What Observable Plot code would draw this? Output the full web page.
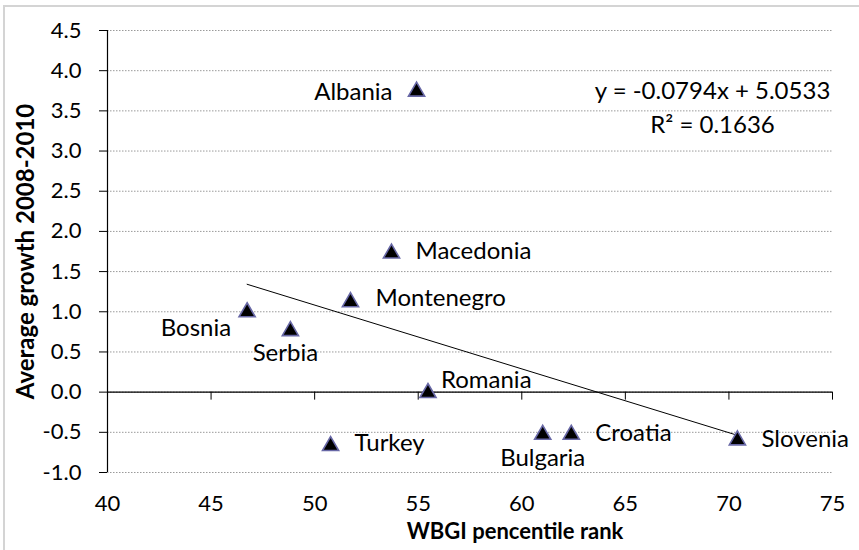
<!DOCTYPE html>
<html>
<head>
<meta charset="utf-8">
<script src="https://cdn.jsdelivr.net/npm/d3@7"></script>
<script src="https://cdn.jsdelivr.net/npm/@observablehq/plot@0.6"></script>
<style>
  html, body { margin: 0; padding: 0; background: white; }
  #wrap { position: relative; width: 859px; height: 550px; overflow: hidden; }
  #border { position: absolute; left: 3px; top: 5px; width: 900px; height: 600px;
            border-left: 2px solid #d4d4d4; border-top: 2px solid #d4d4d4; pointer-events: none; }
</style>
</head>
<body>
<div id="wrap"><div id="border"></div></div>
<script>
// ---- data ----
const countries = ["Albania","Macedonia","Montenegro","Bosnia","Serbia","Romania","Turkey","Bulgaria","Croatia","Slovenia"];
const wbgiRank  = [54.92, 53.71, 51.73, 46.74, 48.83, 55.47, 50.77, 61.01, 62.39, 70.41];
const avgGrowth = [3.77, 1.755, 1.15, 1.025, 0.79, 0.02, -0.64, -0.50, -0.50, -0.57];
const trendSlope = -0.0794;
const trendIntercept = 5.0533;
const trendR2 = 0.1636;
const xTicks = [40, 45, 50, 55, 60, 65, 70, 75];
const yTicks = [-1.0, -0.5, 0.0, 0.5, 1.0, 1.5, 2.0, 2.5, 3.0, 3.5, 4.0, 4.5];
const xTitle = "WBGI pencentile rank";
const yTitle = "Average growth 2008-2010";
const equationText = `y = ${trendSlope} x + ${trendIntercept}`.replace(" x", "x") + "\nR² = " + trendR2;

// ---- label layout (anchor, dx, dy in px) ----
const labelLayout = [
  ["end", -24, 3.5], ["start", 24, 0], ["start", 25, -1], ["end", -16, 19], ["middle", -5, 25],
  ["start", 13, -10], ["start", 24, 0], ["middle", 0, 26], ["start", 24, 1], ["start", 24, 1.5]
];

const idx = countries.map((_, i) => i);
const xMin = d3.min(wbgiRank), xMax = d3.max(wbgiRank);
const trend = [xMin, xMax].map(x => ({x, y: trendSlope * x + trendIntercept}));
const fmtY = d => d.toFixed(1);

const labelMarks = idx.map(i => Plot.text([i], {
  x: j => wbgiRank[j], y: j => avgGrowth[j], text: j => countries[j],
  textAnchor: labelLayout[i][0], dx: labelLayout[i][1], dy: labelLayout[i][2],
  fontSize: 24, fill: "black"
}));

const chart = Plot.plot({
  width: 859, height: 550,
  marginLeft: 107, marginRight: 27, marginTop: 30, marginBottom: 78,
  style: {fontFamily: "Lato, 'Open Sans', sans-serif", background: "white", color: "black", overflow: "visible"},
  x: {domain: [40, 75]},
  y: {domain: [-1, 4.5]},
  marks: [
    Plot.gridY(yTicks, {stroke: "#9a9a9a", strokeOpacity: 1, strokeDasharray: "1.5,1.5"}),
    Plot.text([equationText], {frameAnchor: "top-right", dx: -120, dy: 75, textAnchor: "middle",
      lineAnchor: "middle", lineHeight: 1.42, fontSize: 24, fill: "black", ariaLabel: "equation"}),
    Plot.ruleX([40], {stroke: "black", strokeWidth: 1.2}),
    Plot.ruleY([0], {stroke: "black", strokeWidth: 1.2}),
    Plot.ruleX(xTicks, {x: d => d, y1: 0, y2: 0, insetBottom: -8, stroke: "black"}),
    Plot.axisY(yTicks, {tickSize: 8, tickPadding: 18, fontSize: 22, tickFormat: fmtY, label: null}),
    Plot.axisX(xTicks, {tickSize: 0, tickPadding: 23, fontSize: 22, label: null}),
    Plot.line(trend, {x: "x", y: "y", stroke: "black", strokeWidth: 1}),
    Plot.dot(idx, {x: i => wbgiRank[i], y: i => avgGrowth[i], symbol: "triangle", r: 6,
      fill: "black", stroke: "#6868a6", strokeWidth: 1.6, dy: 2.3}),
    ...labelMarks,
    Plot.text([xTitle], {frameAnchor: "bottom", dx: 45, dy: 59, lineAnchor: "middle",
      fontSize: 22, fontWeight: "bold", fill: "black"}),
    Plot.text([yTitle], {frameAnchor: "left", dx: -81, rotate: -90, lineAnchor: "middle",
      textAnchor: "middle", fontSize: 24, fontWeight: "bold", fill: "black"})
  ]
});

const wrap = document.getElementById("wrap");
wrap.insertBefore(chart, wrap.firstChild);

// white box behind the trendline equation (as in the reference)
const eq = chart.querySelector('g[aria-label="equation"]');
if (eq) {
  const b = eq.getBBox();
  const rect = document.createElementNS("http://www.w3.org/2000/svg", "rect");
  rect.setAttribute("x", b.x - 7);
  rect.setAttribute("y", b.y - 3);
  rect.setAttribute("width", b.width + 14);
  rect.setAttribute("height", b.height + 6);
  rect.setAttribute("fill", "white");
  eq.parentNode.insertBefore(rect, eq);
}
</script>
</body>
</html>
